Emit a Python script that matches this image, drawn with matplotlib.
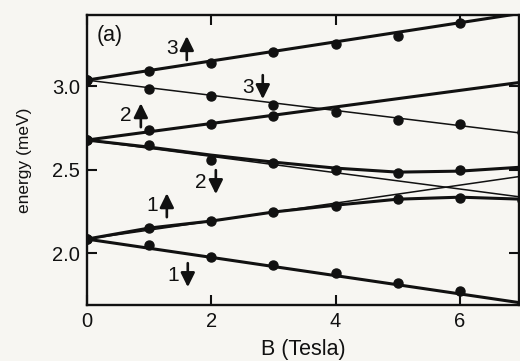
import numpy as np
import matplotlib
matplotlib.use("Agg")
import matplotlib.pyplot as plt
from matplotlib.transforms import offset_copy

plt.rcParams['font.family'] = ['Liberation Sans', 'DejaVu Sans']

# magnetic field points (Tesla)
B = [0, 1, 2, 3, 4, 5, 6, 7]
B_ends = [0, 7]

# measured points (meV)
dots_3up = [3.036, 3.090, 3.138, 3.204, 3.251, 3.299, 3.377, 3.437]
dots_3dn = [3.036, 2.982, 2.940, 2.886, 2.844, 2.796, 2.772, 2.725]
dots_2up = [2.677, 2.737, 2.772, 2.820]
dots_2dn = [2.677, 2.647, 2.557, 2.539, 2.497, 2.479, 2.497, 2.509]
dots_1up = [2.084, 2.150, 2.192, 2.246, 2.281, 2.323, 2.329, 2.317]
dots_1dn = [2.084, 2.048, 1.976, 1.928, 1.880, 1.820, 1.772, 1.701]

# straight (thin) lines, end values
thin_3dn = [3.036, 2.718]
thin_2dn = [2.677, 2.335]
thin_1up = [2.084, 2.461]

# thick lines
thick_3up = [3.036, 3.437]
thick_2up = [2.677, 3.024]
thick_1dn = [2.084, 1.701]
curve_2dn = [2.677, 2.635, 2.587, 2.545, 2.509, 2.485, 2.491, 2.515]
curve_1up = [2.084, 2.150, 2.192, 2.246, 2.287, 2.323, 2.335, 2.323]

# level labels: number and spin direction
lab_num = ["3", "3", "2", "2", "1", "1"]
lab_up = [True, False, True, False, True, False]
label_x = [1.495, 2.717, 0.756, 1.962, 1.174, 1.511]
label_y = [3.228, 2.994, 2.826, 2.425, 2.287, 1.868]

ink = "#111111"
bg = "#f7f6f2"

fig = plt.figure(figsize=(5.2, 3.61), dpi=100, facecolor=bg)
ax = fig.add_axes([0.167, 0.155, 0.831, 0.803], facecolor=bg)

for y in [thin_3dn, thin_2dn, thin_1up]:
    ax.plot(B_ends, y, color=ink, lw=1.1)
for y in [thick_3up, thick_2up, thick_1dn]:
    ax.plot(B_ends, y, color=ink, lw=2.2)
ax.plot(B, curve_2dn, color=ink, lw=2.2)
ax.plot(B, curve_1up, color=ink, lw=2.2)

for d in [dots_3up, dots_3dn, dots_2up, dots_2dn, dots_1up, dots_1dn]:
    ax.plot(B[:len(d)], d, 'o', color=ink, ms=6.5, mec=ink)

# labels: digit on the left, filled arrow on the right
t_num = offset_copy(ax.transData, fig=fig, x=-8, y=0, units='dots')
t_top = offset_copy(ax.transData, fig=fig, x=7, y=12, units='dots')
t_bot = offset_copy(ax.transData, fig=fig, x=7, y=-12, units='dots')
for n, up, x, y in zip(lab_num, lab_up, label_x, label_y):
    ax.text(x, y, n, fontsize=15, ha='center', va='center', color=ink,
            transform=t_num)
    head, tail = (t_top, t_bot) if up else (t_bot, t_top)
    ax.annotate('', xy=(x, y), xycoords=head, xytext=(x, y), textcoords=tail,
                arrowprops=dict(arrowstyle='-|>,head_length=0.85,head_width=0.42',
                                lw=1.9, color=ink, shrinkA=0, shrinkB=0))

ax.text(0.37, 3.305, "(a)", fontsize=15.5, ha='center', va='center', color=ink)

ax.set_xlim(0, 6.95)
ax.set_ylim(1.689, 3.425)
ax.set_xticks([0, 2, 4, 6])
ax.set_yticks([2.0, 2.5, 3.0])
ax.set_yticklabels(["2.0", "2.5", "3.0"])
ax.tick_params(direction='in', length=7, width=1.5, labelsize=14.5,
               top=True, right=True, colors=ink, pad=5)
for s in ax.spines.values():
    s.set_linewidth(1.7)
    s.set_color(ink)

ax.set_xlabel("B (Tesla)", fontsize=15.5, color=ink, labelpad=6)
ax.set_ylabel("energy (meV)", fontsize=12.5, color=ink, labelpad=14)

fig.savefig("out.png", dpi=100, facecolor=bg)
